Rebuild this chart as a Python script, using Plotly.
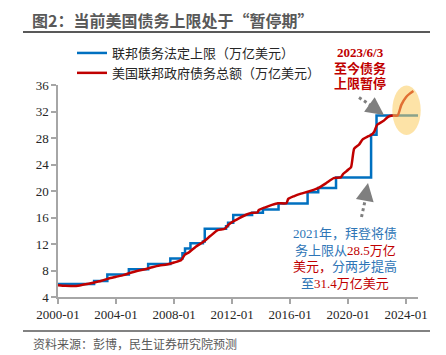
import plotly.graph_objects as go

# ---------------- data ----------------
ceiling_dates = ["2000-01-01", "2002-06-28", "2003-05-27", "2004-11-19", "2006-03-20",
                 "2007-09-29", "2008-07-30", "2008-10-03", "2009-02-17", "2009-12-28",
                 "2010-02-12", "2011-08-02", "2011-09-22", "2012-01-30", "2013-05-19",
                 "2014-02-15", "2015-03-16", "2017-03-16", "2017-12-09", "2019-03-02",
                 "2021-08-01", "2021-12-16", "2024-10-25"]
ceiling_values = [5.95, 6.40, 7.384, 8.184, 8.965, 9.815, 10.615, 11.315, 12.104, 12.394,
                  14.294, 14.694, 15.194, 16.394, 16.699, 17.2, 18.113, 19.808, 20.456,
                  22.03, 28.5, 31.381, 31.381]

debt_dates = ["2000-01-01", "2000-07-01", "2001-01-01", "2001-07-01", "2002-01-01", "2002-07-01",
              "2003-01-01", "2003-07-01", "2004-01-01", "2004-07-01", "2005-01-01", "2005-07-01",
              "2006-01-01", "2006-07-01", "2007-01-01", "2007-07-01", "2008-01-01", "2008-07-01",
              "2008-10-01", "2009-01-01", "2009-07-01", "2010-01-01", "2010-07-01", "2011-01-01",
              "2011-07-01", "2011-10-01", "2012-01-01", "2012-07-01", "2013-01-01", "2013-05-01",
              "2013-10-01", "2013-11-01", "2014-04-01", "2014-10-01", "2015-03-01", "2015-10-01",
              "2015-11-15", "2016-04-01", "2016-10-01", "2017-03-01", "2017-09-01", "2018-01-01",
              "2018-07-01", "2019-01-01", "2019-07-01", "2019-09-01", "2020-01-01", "2020-03-15",
              "2020-06-01", "2020-10-01", "2021-01-01", "2021-05-01", "2021-08-01", "2021-10-15",
              "2022-01-01", "2022-06-01", "2022-10-01", "2023-01-20", "2023-06-01", "2023-09-01",
              "2024-01-01", "2024-04-01", "2024-07-01"]
debt_values = [5.77, 5.68, 5.66, 5.75, 5.95, 6.20, 6.45, 6.80, 7.05, 7.30, 7.65, 7.95,
               8.20, 8.50, 8.75, 8.90, 9.20, 9.60, 10.40, 10.70, 11.60, 12.30, 13.20, 14.10,
               14.30, 14.90, 15.30, 15.90, 16.45, 16.70, 16.75, 17.10, 17.50, 17.90, 18.15, 18.15,
               18.80, 19.20, 19.60, 19.85, 20.20, 20.50, 21.20, 21.95, 22.05, 22.60, 23.20, 23.60,
               26.40, 27.00, 27.80, 28.20, 28.45, 28.90, 30.00, 30.55, 31.20, 31.40, 31.40, 33.00,
               34.20, 34.70, 35.10]

tick_vals = ["2000-01-01", "2004-01-01", "2008-01-01", "2012-01-01", "2016-01-01",
             "2020-01-01", "2024-01-01"]
tick_text = ["2000-01", "2004-01", "2008-01", "2012-01", "2016-01", "2020-01", "2024-01"]
y_ticks = [4, 8, 12, 16, 20, 24, 28, 32, 36]

name_ceiling = "联邦债务法定上限（万亿美元）"
name_debt = "美国联邦政府债务总额（万亿美元）"

# ---------------- layout helpers (pixel -> paper) ----------------
W, H = 446, 355
L, R, T, B = 58, 28, 85, 58
PW, PH = W - L - R, H - T - B


def px(x):
    return (x - L) / PW


def py(y):
    return (H - B - y) / PH


BLUE = "#0070C0"
RED = "#C00000"
GRAY = "#7F7F7F"
SERIF = "Liberation Serif, Noto Sans CJK SC"
SANS = "Noto Sans CJK SC, Microsoft YaHei, sans-serif"

fig = go.Figure()
fig.add_trace(go.Scatter(x=ceiling_dates, y=ceiling_values, name=name_ceiling, mode="lines",
                         line=dict(color=BLUE, width=2.5, shape="hv")))
fig.add_trace(go.Scatter(x=debt_dates, y=debt_values, name=name_debt, mode="lines",
                         line=dict(color=RED, width=2.5, shape="spline", smoothing=0.5)))

shapes = [
    # title underline and bottom rule
    dict(type="line", xref="paper", yref="paper", x0=px(23), x1=px(430), y0=py(32), y1=py(32),
         line=dict(color="#595959", width=2)),
    dict(type="line", xref="paper", yref="paper", x0=px(23), x1=px(430), y0=py(331), y1=py(331),
         line=dict(color="#595959", width=1.5)),
    # highlight ellipse
    dict(type="circle", xref="paper", yref="paper", x0=px(392.3), x1=px(420.7),
         y0=py(135), y1=py(85.5), layer="above", line=dict(width=0),
         fillcolor="rgba(251,204,95,0.55)"),
    # dotted arrow shafts
    dict(type="line", xref="paper", yref="paper", x0=px(361.5), y0=py(217), x1=px(366.5), y1=py(194),
         line=dict(color=GRAY, width=3, dash="dot")),
    dict(type="line", xref="paper", yref="paper", x0=px(359), y0=py(97.5), x1=px(374), y1=py(107.5),
         line=dict(color=GRAY, width=3, dash="dot")),
]

annotations = [
    # arrow heads
    dict(xref="paper", yref="paper", x=px(368), y=py(183), ax=-2, ay=11, text="", showarrow=True,
         arrowhead=2, arrowsize=1.2, arrowwidth=3, arrowcolor=GRAY, standoff=0),
    dict(xref="paper", yref="paper", x=px(384), y=py(115), ax=-9, ay=-6.5, text="", showarrow=True,
         arrowhead=2, arrowsize=1.2, arrowwidth=3, arrowcolor=GRAY, standoff=0),
    # source
    dict(xref="paper", yref="paper", x=px(31), y=py(343), xanchor="left", yanchor="middle",
         text="资料来源：彭博，民生证券研究院预测", showarrow=False,
         font=dict(family=SANS, size=12, color="#595959")),
]

for i, t in enumerate(["2023/6/3", "至今债务", "上限暂停"]):
    annotations.append(dict(xref="paper", yref="paper", x=px(360), y=py(52.7 + 15.4 * i),
                            xanchor="center", yanchor="middle", text="<b>" + t + "</b>",
                            showarrow=False, font=dict(family=SERIF, size=13, color=RED)))

note_lines = [
    "2021年，拜登将债",
    "务上限从<span style='color:%s'>28.5万亿</span>" % RED,
    "<span style='color:%s'>美元，</span>分两步提高" % RED,
    "至<span style='color:%s'>31.4万亿美元</span>" % RED,
]
for i, t in enumerate(note_lines):
    annotations.append(dict(xref="paper", yref="paper", x=px(345), y=py(233.3 + 16.8 * i),
                            xanchor="center", yanchor="middle", text=t, showarrow=False,
                            font=dict(family=SERIF, size=13, color="#2E75B6")))

axis_color = "#A6A6A6"
fig.update_layout(
    width=W, height=H,
    margin=dict(l=L, r=R, t=T, b=B, pad=0),
    paper_bgcolor="white", plot_bgcolor="white",
    title=dict(text="<b>图2：当前美国债务上限处于“暂停期”</b>", x=32 / W, xanchor="left",
               y=1 - 21.5 / H, yanchor="middle",
               font=dict(family=SANS, size=16, color="#595959")),
    showlegend=True,
    legend=dict(x=px(72), y=py(38), xanchor="left", yanchor="top", bgcolor="rgba(0,0,0,0)",
                font=dict(family=SANS, size=13, color="#262626"), tracegroupgap=0,
                itemwidth=30),
    xaxis=dict(type="date", range=["2000-01-01", "2024-10-25"], tickvals=tick_vals,
               ticktext=tick_text, showgrid=False, zeroline=False, showline=True,
               linecolor=axis_color, linewidth=1.5, ticks="outside", ticklen=5,
               tickcolor=axis_color, tickwidth=1.5,
               tickfont=dict(family="Liberation Serif", size=13, color="#262626")),
    yaxis=dict(range=[4, 36], tickvals=y_ticks, showgrid=False, zeroline=False,
               showline=True, linecolor=axis_color, linewidth=1.5, ticks="outside",
               ticklen=5, tickcolor=axis_color, tickwidth=1.5,
               tickfont=dict(family="Liberation Serif", size=13, color="#262626")),
    shapes=shapes,
    annotations=annotations,
)

fig.write_html("out.html", config={"displayModeBar": False},
               post_script="document.body.style.margin='0';document.body.style.overflow='hidden';")
